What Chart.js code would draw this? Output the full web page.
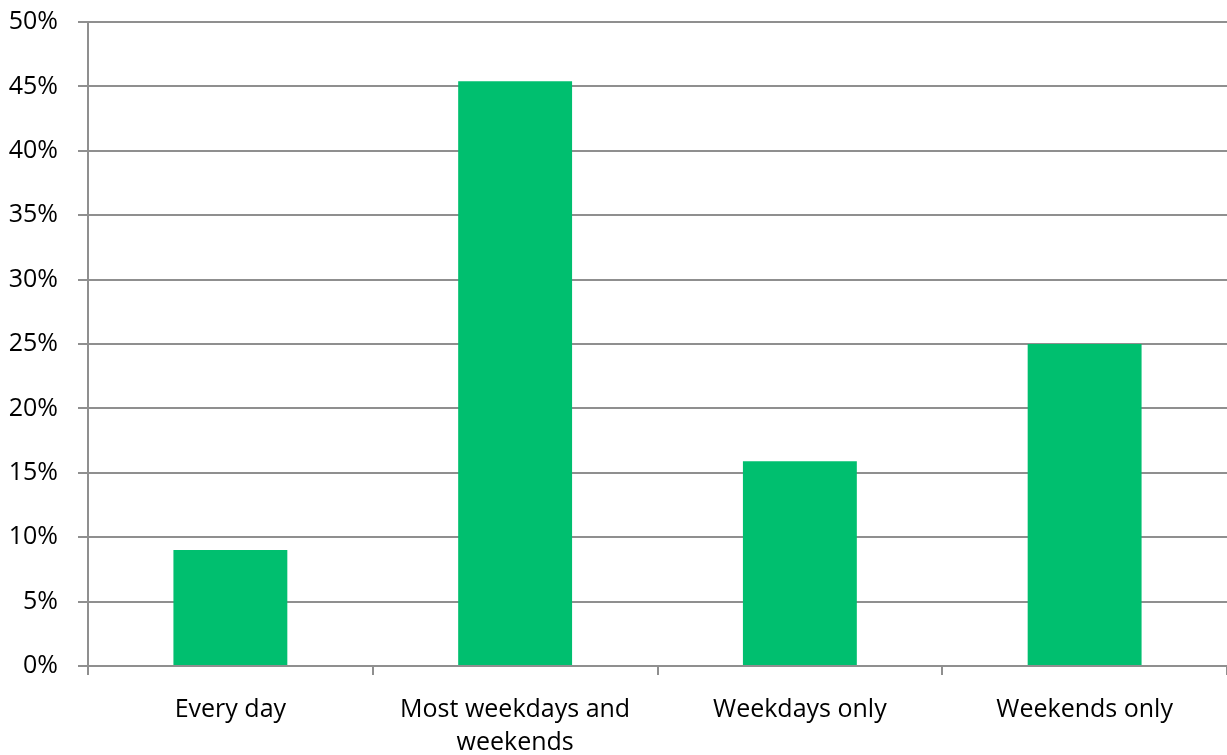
<!DOCTYPE html>
<html>
<head>
<meta charset="utf-8">
<script src="https://cdn.jsdelivr.net/npm/chart.js@4/dist/chart.umd.min.js"></script>
<style>
  html, body { margin: 0; padding: 0; background: #fff; }
  #wrap { width: 1227px; height: 755px; }
</style>
</head>
<body>
<div id="wrap"><canvas id="barChart"></canvas></div>
<script>
// categories and share of respondents (%)
const categories = ["Every day", ["Most weekdays and", "weekends"], "Weekdays only", "Weekends only"];
const shares = [9.0, 45.4, 15.9, 25.0];
const yTicks = [0, 5, 10, 15, 20, 25, 30, 35, 40, 45, 50];

const gridGray = "#8f8f8f";
const barGreen = "#00bf6f";
const fontFam = "'Open Sans', 'Liberation Sans', sans-serif";

const ctx = document.getElementById("barChart").getContext("2d");
const chart = new Chart(ctx, {
  type: "bar",
  data: {
    labels: categories,
    datasets: [{
      data: shares,
      backgroundColor: barGreen,
      borderWidth: 0,
      barPercentage: 0.8,
      categoryPercentage: 0.5
    }]
  },
  options: {
    responsive: true,
    maintainAspectRatio: false,
    animation: false,
    layout: { padding: { top: 22, right: 0, left: 0, bottom: 0 } },
    plugins: {
      legend: { display: false },
      tooltip: { enabled: false }
    },
    scales: {
      x: {
        offset: true,
        grid: {
          offset: true,
          drawOnChartArea: false,
          drawTicks: true,
          tickLength: 9,
          color: gridGray,
          lineWidth: 2
        },
        border: { color: gridGray, width: 2 },
        ticks: {
          color: "#000",
          padding: 18,
          maxRotation: 0,
          font: { family: fontFam, size: 25, lineHeight: 1.33 }
        },
        afterFit: function (scale) { scale.height = 89; }
      },
      y: {
        min: 0,
        max: 50,
        afterBuildTicks: function (scale) {
          scale.ticks = yTicks.map(v => ({ value: v }));
        },
        grid: {
          color: gridGray,
          lineWidth: 2,
          drawTicks: true,
          tickLength: 10
        },
        border: { color: gridGray, width: 2 },
        ticks: {
          color: "#000",
          padding: 20,
          font: { family: fontFam, size: 25 },
          callback: function (v) { return v + "%"; }
        },
        afterFit: function (scale) {
          scale.width = 88;
          // keep the top/bottom labels from pushing the plot area around
          scale.paddingTop = 0;
          scale.paddingBottom = 0;
        }
      }
    }
  }
});
</script>
</body>
</html>
